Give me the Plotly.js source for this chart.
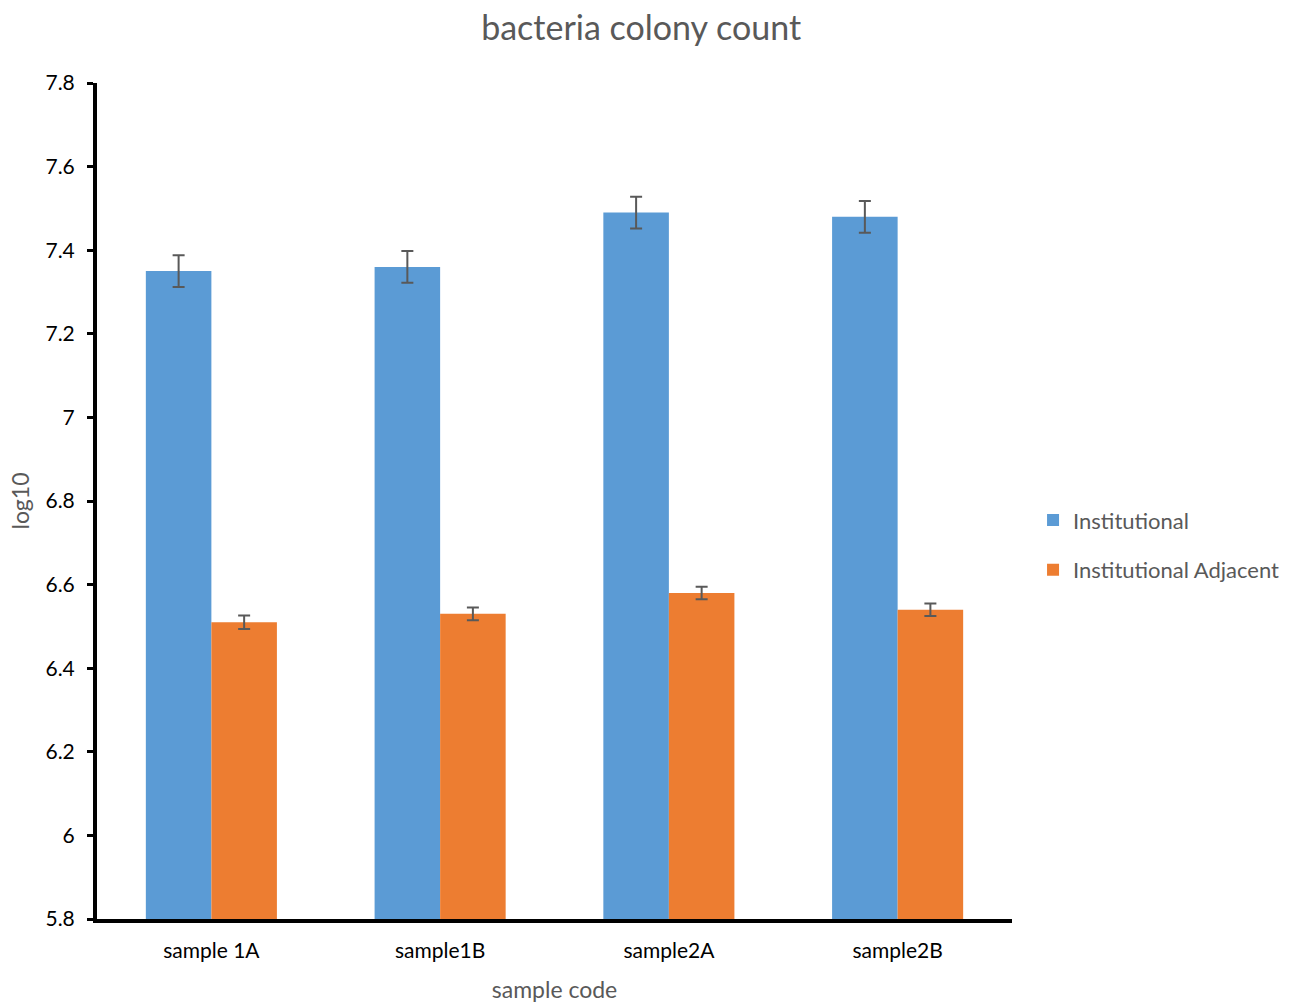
<!DOCTYPE html>
<html>
<head>
<meta charset="utf-8">
<script src="https://cdn.plot.ly/plotly-3.0.1.min.js"></script>
<style>body{margin:0;padding:0;background:#fff}#chart{width:1290px;height:1005px}</style>
</head>
<body>
<div id="chart"></div>
<script>
const categories = ["sample 1A", "sample1B", "sample2A", "sample2B"];
const institutional = [7.35, 7.36, 7.49, 7.48];
const institutionalErr = [0.038, 0.038, 0.038, 0.038];
const adjacent = [6.51, 6.53, 6.58, 6.54];
const adjacentErr = [0.016, 0.015, 0.015, 0.015];
const yTicks = [5.8, 6, 6.2, 6.4, 6.6, 6.8, 7, 7.2, 7.4, 7.6, 7.8];

const FONT = "Lato, 'Open Sans', sans-serif";
const errStyle = {type: 'data', visible: true, color: '#595959', thickness: 2, width: 6};

const traces = [
  {type: 'bar', name: 'Institutional', x: categories, y: institutional,
   legendgroup: 'a',
   marker: {color: '#5B9BD5'},
   error_y: Object.assign({array: institutionalErr}, errStyle)},
  {type: 'bar', name: 'Institutional Adjacent', x: categories, y: adjacent,
   legendgroup: 'b',
   marker: {color: '#ED7D31'},
   error_y: Object.assign({array: adjacentErr}, errStyle)}
];

const layout = {
  width: 1290, height: 1005,
  paper_bgcolor: '#fff', plot_bgcolor: '#fff',
  margin: {l: 97, r: 278, t: 83, b: 86, autoexpand: false},
  font: {family: FONT, color: '#000', size: 20},
  title: {text: 'bacteria colony count', x: 0.497, xanchor: 'center', y: 0.972, yanchor: 'middle',
          font: {family: FONT, size: 34, color: '#595959'}},
  barmode: 'group', bargap: 0.427, bargroupgap: 0,
  showlegend: true,
  legend: {x: 1.023, y: 0.447, xanchor: 'left', yanchor: 'middle', traceorder: 'grouped',
           font: {family: FONT, size: 22, color: '#595959'}, tracegroupgap: 18, itemwidth: 30},
  xaxis: {
    showline: true, linecolor: '#000', linewidth: 4, ticks: '', showgrid: false,
    tickfont: {family: FONT, size: 21, color: '#000'}, ticklabelstandoff: 10,
    title: {text: 'sample code', standoff: 22, font: {family: FONT, size: 23, color: '#595959'}}
  },
  yaxis: {
    range: [5.8, 7.8], tickvals: yTicks, ticktext: yTicks.map(String),
    showline: true, linecolor: '#000', linewidth: 4, ticks: 'outside', ticklen: 6, tickwidth: 3,
    tickcolor: '#000', showgrid: false, zeroline: false,
    tickfont: {family: FONT, size: 21, color: '#000'}, ticklabelstandoff: 8,
    title: {text: 'log10', standoff: 10, font: {family: FONT, size: 23, color: '#595959'}}
  }
};

Plotly.newPlot('chart', traces, layout, {displayModeBar: false});
</script>
</body>
</html>
